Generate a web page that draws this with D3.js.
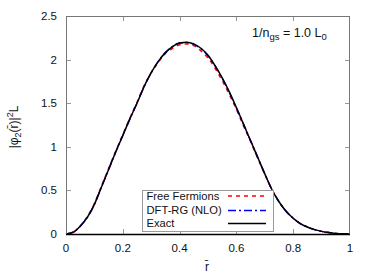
<!DOCTYPE html>
<html>
<head>
<meta charset="utf-8">
<script src="https://cdn.jsdelivr.net/npm/d3@7"></script>
<style>
  html, body { margin: 0; padding: 0; background: #fff; }
  svg { display: block; font-family: "Liberation Sans", Arial, sans-serif; }
</style>
</head>
<body>
<svg id="chart" width="374" height="277"></svg>
<script>
// ---- data ----
const rValues = [0, 0.025, 0.05, 0.075, 0.1, 0.125, 0.15, 0.175, 0.2, 0.225, 0.25, 0.275, 0.3, 0.325, 0.35, 0.375, 0.4, 0.425, 0.45, 0.475, 0.5, 0.525, 0.55, 0.575, 0.6, 0.625, 0.65, 0.675, 0.7, 0.725, 0.75, 0.775, 0.8, 0.825, 0.85, 0.875, 0.9, 0.925, 0.95, 0.975, 1];
const exactValues = [0, 0.02, 0.09, 0.19, 0.34, 0.54, 0.74, 0.94, 1.13, 1.32, 1.50, 1.69, 1.85, 1.98, 2.08, 2.15, 2.19, 2.20, 2.18, 2.13, 2.05, 1.93, 1.79, 1.63, 1.45, 1.26, 1.07, 0.88, 0.69, 0.51, 0.37, 0.26, 0.18, 0.12, 0.08, 0.05, 0.03, 0.016, 0.007, 0.002, 0];
const dftValues = [0, 0.02, 0.09, 0.19, 0.34, 0.54, 0.74, 0.94, 1.13, 1.32, 1.50, 1.69, 1.85, 1.98, 2.08, 2.15, 2.19, 2.195, 2.175, 2.125, 2.045, 1.925, 1.785, 1.625, 1.445, 1.26, 1.07, 0.88, 0.69, 0.51, 0.37, 0.26, 0.18, 0.12, 0.08, 0.05, 0.03, 0.016, 0.007, 0.002, 0];
const freeValues = [0, 0.02, 0.09, 0.20, 0.35, 0.55, 0.75, 0.95, 1.14, 1.33, 1.51, 1.70, 1.85, 1.97, 2.07, 2.13, 2.17, 2.18, 2.16, 2.10, 2.02, 1.90, 1.76, 1.60, 1.43, 1.24, 1.06, 0.87, 0.685, 0.51, 0.37, 0.26, 0.18, 0.12, 0.08, 0.05, 0.03, 0.016, 0.007, 0.002, 0];
const xTicks = [0, 0.2, 0.4, 0.6, 0.8, 1];
const xTickLabels = ["0", "0.2", "0.4", "0.6", "0.8", "1"];
const yTicks = [0, 0.5, 1, 1.5, 2, 2.5];
const yTickLabels = ["0", "0.5", "1", "1.5", "2", "2.5"];
const legendLabels = ["Free Fermions", "DFT-RG (NLO)", "Exact"];

// ---- layout ----
const L = 66, R = 350, T = 16, B = 234;
const svg = d3.select("#chart");
const x = d3.scaleLinear().domain([0, 1]).range([L, R]);
const y = d3.scaleLinear().domain([0, 2.5]).range([B, T]);

const fs = 11.5;

// ticks (inward, mirrored)
const tickLen = 5;
const gT = svg.append("g").attr("stroke", "#999").attr("stroke-width", 1);
xTicks.slice(1, -1).forEach(v => {
  const px = Math.round(x(v)) + 0.5;
  gT.append("line").attr("x1", px).attr("x2", px).attr("y1", B).attr("y2", B - tickLen);
  gT.append("line").attr("x1", px).attr("x2", px).attr("y1", T).attr("y2", T + tickLen);
});
yTicks.slice(1, -1).forEach(v => {
  const py = Math.round(y(v)) + 0.5;
  gT.append("line").attr("x1", L).attr("x2", L + tickLen).attr("y1", py).attr("y2", py);
  gT.append("line").attr("x1", R).attr("x2", R - tickLen).attr("y1", py).attr("y2", py);
});

// tick labels
xTicks.forEach((v, i) => {
  svg.append("text").attr("x", x(v)).attr("y", 252).attr("text-anchor", "middle")
    .attr("font-size", fs).attr("fill", "#111").text(xTickLabels[i]);
});
yTicks.forEach((v, i) => {
  svg.append("text").attr("x", 57).attr("y", y(v) + 4).attr("text-anchor", "end")
    .attr("font-size", fs).attr("fill", "#111").text(yTickLabels[i]);
});

// curves
const line = d3.line().x((d, i) => x(rValues[i])).y(d => y(d)).curve(d3.curveMonotoneX);
const g = svg.append("g");
g.append("path").attr("d", line(freeValues)).attr("fill", "none").attr("stroke", "#ff0000")
  .attr("stroke-width", 1.5).attr("stroke-dasharray", "4,4");
g.append("path").attr("d", line(dftValues)).attr("fill", "none").attr("stroke", "#0000ff")
  .attr("stroke-width", 1.5).attr("stroke-dasharray", "8,3,2,3");
g.append("path").attr("d", line(exactValues)).attr("fill", "none").attr("stroke", "#000")
  .attr("stroke-width", 1.5);

// frame
svg.append("rect").attr("x", L + 0.5).attr("y", T + 0.5).attr("width", R - L - 1).attr("height", B - T)
  .attr("fill", "none").attr("stroke", "#777").attr("stroke-width", 1);
svg.append("line").attr("x1", L).attr("x2", R).attr("y1", B + 0.5).attr("y2", B + 0.5)
  .attr("stroke", "#000").attr("stroke-width", 1.5);

// legend
const lg = svg.append("g");
lg.append("rect").attr("x", 142.5).attr("y", 190.5).attr("width", 131).attr("height", 41)
  .attr("fill", "#fff").attr("stroke", "#999").attr("stroke-width", 1);
const rowsY = [200, 214, 227];
const sampleY = [196, 210.5, 223.5];
const styles = [
  { c: "#ff0000", d: "4,4" },
  { c: "#0000ff", d: "8,3,2,3" },
  { c: "#000", d: null }
];
legendLabels.forEach((t, i) => {
  lg.append("text").attr("x", 146.5).attr("y", rowsY[i]).attr("font-size", 11.2)
    .attr("fill", "#111").text(t);
  const ln = lg.append("line").attr("x1", 228).attr("x2", 266)
    .attr("y1", sampleY[i]).attr("y2", sampleY[i])
    .attr("stroke", styles[i].c).attr("stroke-width", 1.5);
  if (styles[i].d) ln.attr("stroke-dasharray", styles[i].d);
});

// axis labels
svg.append("text").attr("x", 207).attr("y", 271).attr("text-anchor", "middle")
  .attr("font-size", 12).attr("fill", "#111").text("r\u0304");

const yl = svg.append("text").attr("transform", "translate(18,127) rotate(-90)")
  .attr("text-anchor", "middle").attr("font-size", 12).attr("fill", "#111");
yl.append("tspan").text("|\u03C6");
yl.append("tspan").attr("font-size", 9).attr("dy", 3).text("2");
yl.append("tspan").attr("dy", -3).text("(r\u0304)|");
yl.append("tspan").attr("font-size", 9).attr("dy", -5).text("2");
yl.append("tspan").attr("dy", 5).text("L");

// annotation
const ann = svg.append("text").attr("x", 252).attr("y", 37).attr("font-size", 12.5).attr("fill", "#111");
ann.append("tspan").text("1/n");
ann.append("tspan").attr("font-size", 9.5).attr("dy", 3).text("gs");
ann.append("tspan").attr("dy", -3).text(" = 1.0 L");
ann.append("tspan").attr("font-size", 9.5).attr("dy", 3).text("0");
</script>
</body>
</html>
